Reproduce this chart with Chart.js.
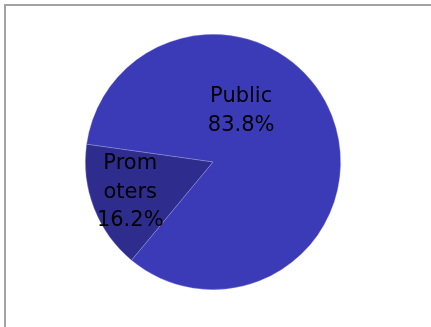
<!DOCTYPE html>
<html>
<head>
<meta charset="utf-8">
<script src="https://cdn.jsdelivr.net/npm/chart.js@4"></script>
<style>
  html, body { margin: 0; padding: 0; background: #fff; overflow: hidden; }
  #wrap { position: relative; width: 431px; height: 327px; }
  #frame { position: absolute; left: 4px; top: 4px; width: 440px; height: 340px; border: 2px solid #a3a3a3; box-sizing: border-box; }
  canvas { position: absolute; left: 0; top: 0; }
</style>
</head>
<body>
<div id="wrap">
  <div id="frame"></div>
  <canvas id="c" width="431" height="327"></canvas>
</div>
<script>
const categories = ["Public", "Promoters"];
const shares = [83.8, 16.2];
const labelLines = [["Public", "83.8%"], ["Prom", "oters", "16.2%"]];
const colors = ["#3b3ab7", "#2e2d8d"];

// label placement: angle (deg clockwise from top) and fraction of radius
const labelPlace = [{ angle: 29, frac: 0.455 }, { angle: 250, frac: 0.69 }];

const labelPlugin = {
  id: "sliceLabels",
  afterDatasetsDraw(chart) {
    const ctx = chart.ctx;
    const meta = chart.getDatasetMeta(0);
    meta.data.forEach((arc, i) => {
      const p = labelPlace[i];
      const a = (p.angle - 90) * Math.PI / 180;
      const r = arc.outerRadius * p.frac;
      const x = arc.x + Math.cos(a) * r;
      const y = arc.y + Math.sin(a) * r;
      const lines = labelLines[i];
      const lh = 28.5;
      ctx.save();
      ctx.fillStyle = "#000";
      ctx.font = "21px 'DejaVu Sans', sans-serif";
      ctx.textAlign = "center";
      ctx.textBaseline = "middle";
      const start = y - (lines.length - 1) * lh / 2;
      lines.forEach((t, k) => ctx.fillText(t, x, start + k * lh));
      ctx.restore();
    });
  }
};

new Chart(document.getElementById("c"), {
  type: "pie",
  data: {
    labels: categories,
    datasets: [{
      data: shares,
      backgroundColor: colors,
      borderColor: "rgba(170,170,240,0.5)",
      borderWidth: 0.7
    }]
  },
  options: {
    responsive: false,
    animation: false,
    rotation: 278,
    layout: { padding: { left: 85, right: 90, top: 33, bottom: 36 } },
    plugins: {
      legend: { display: false },
      tooltip: { enabled: false }
    }
  },
  plugins: [labelPlugin]
});
</script>
</body>
</html>
